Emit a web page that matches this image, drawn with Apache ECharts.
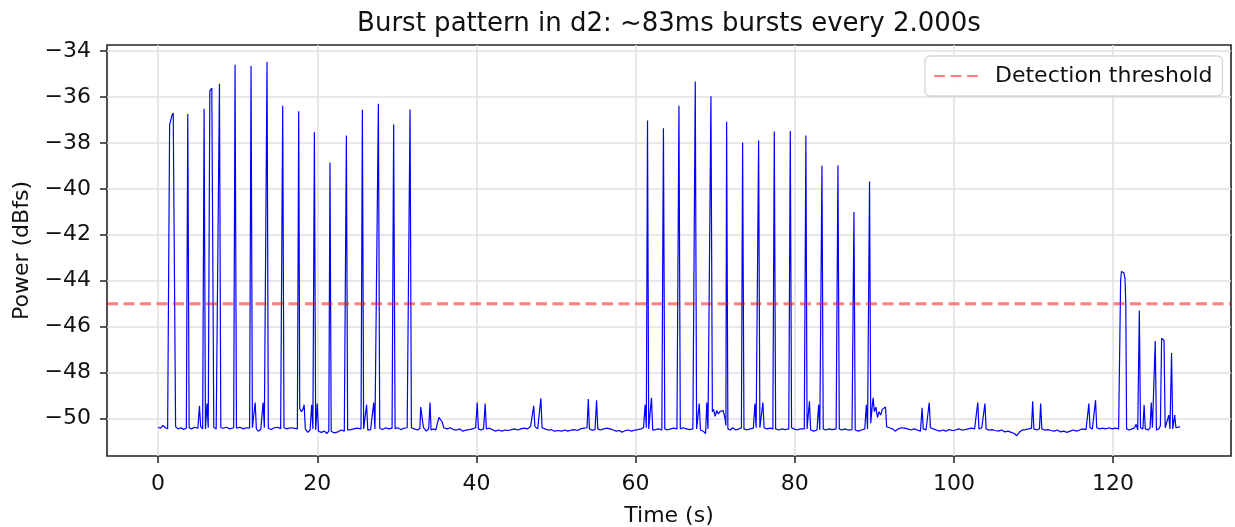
<!DOCTYPE html>
<html>
<head>
<meta charset="utf-8">
<script src="https://cdn.jsdelivr.net/npm/echarts@6/dist/echarts.min.js"></script>
<style>
  html, body { margin: 0; padding: 0; background: #fff; }
  #main { width: 1235px; height: 527px; }
</style>
</head>
<body>
<div id="main"></div>
<script>
// power trace, [time s, dBfs], split into four stretches
const traceA = [
  [0.0,-50.38],[0.3,-50.42],[0.6,-50.30],[0.9,-50.40],[1.2,-50.44],[1.35,-50.40],
  [1.45,-37.2],[1.6,-37.0],[1.75,-36.8],[1.9,-36.7],[2.05,-36.75],[2.2,-50.35],
  [2.5,-50.45],[2.9,-50.40],[3.2,-50.48],[3.55,-50.42],
  [3.73,-36.74],[3.9,-50.40],
  [4.2,-50.45],[4.6,-50.38],[5.0,-50.42],[5.2,-49.45],[5.35,-50.35],[5.6,-50.45],
  [5.78,-36.52],[5.95,-50.45],[6.15,-49.35],[6.3,-50.4],
  [6.5,-35.75],[6.6,-35.68],[6.75,-35.62],[6.85,-35.57],[7.0,-50.38],
  [7.3,-50.45],[7.55,-50.40],
  [7.71,-35.43],[7.88,-50.4],[8.2,-50.42],[8.6,-50.38],[9.0,-50.45],[9.5,-50.40],
  [9.67,-34.6],[9.85,-50.42],[10.3,-50.38],[10.7,-50.45],[11.1,-50.40],[11.5,-50.42],
  [11.68,-34.65],[11.85,-50.4],[12.05,-50.45],[12.2,-49.3],[12.35,-50.45],[12.6,-50.55],
  [12.9,-50.48],[13.1,-50.4],[13.2,-49.3],[13.35,-50.4],[13.55,-50.45],
  [13.69,-34.47],[13.85,-50.42],[14.2,-50.48],[14.6,-50.4],[15.0,-50.38],[15.4,-50.44],[15.5,-50.42],
  [15.66,-36.38],[15.82,-50.4],[16.2,-50.45],[16.6,-50.40],[17.0,-50.42],[17.5,-50.45],
  [17.67,-36.62],[17.8,-49.55],[18.0,-49.7],[18.2,-49.6],[18.35,-49.4],[18.5,-50.45],
  [18.8,-50.6],[19.1,-50.5],[19.3,-49.4],[19.45,-50.45],
  [19.64,-37.54],[19.8,-50.5],[20.0,-49.35],[20.15,-50.55],[20.5,-50.6],[20.9,-50.55],
  [21.2,-50.65],[21.45,-50.55],
  [21.6,-38.85],[21.75,-50.55],[22.1,-50.62],[22.6,-50.58],[23.0,-50.5],[23.4,-50.55],[23.5,-50.5],
  [23.66,-37.68],[23.82,-50.5],[24.2,-50.48],[24.6,-50.45],[25.0,-50.42],[25.5,-50.45],
  [25.67,-36.56],[25.83,-50.45],[26.05,-50.5],[26.2,-49.4],[26.35,-50.5],[26.7,-50.48],
  [26.95,-50.45],[27.1,-49.3],[27.25,-50.45],[27.5,-50.42],
  [27.68,-36.3],[27.85,-50.42],[28.2,-50.48],[28.6,-50.4],[29.0,-50.45],[29.4,-50.42],
  [29.6,-37.2],[29.78,-50.44],[30.1,-50.4],[30.5,-50.48],[30.9,-50.42],[31.3,-50.4],[31.5,-50.45],
  [31.66,-36.55],[31.83,-50.4]
];
const traceB = [
  [32.2,-50.45],[32.6,-50.5],[32.9,-50.42],[33.0,-49.5],[33.2,-49.45],[33.35,-50.4],
  [33.7,-50.55],[34.0,-50.45],[34.17,-49.3],[34.3,-50.5],[34.6,-50.45],[34.9,-50.5],
  [35.1,-50.2],[35.3,-49.95],[35.5,-49.9],[35.7,-50.15],[35.9,-50.4],[36.3,-50.45],
  [36.7,-50.4],[37.1,-50.48],[37.5,-50.5],[37.9,-50.45],[38.3,-50.55],[38.7,-50.5],
  [39.1,-50.48],[39.5,-50.45],[39.9,-50.4],[40.1,-49.3],[40.25,-50.45],[40.6,-50.5],
  [40.9,-50.45],[41.1,-49.35],[41.25,-50.45],[41.6,-50.42],[42.0,-50.48],[42.4,-50.55],
  [42.8,-50.5],[43.2,-50.55],[43.6,-50.5],[44.0,-50.52],[44.4,-50.48],[44.8,-50.45],
  [45.2,-50.5],[45.6,-50.45],[46.0,-50.42],[46.4,-50.45],[46.8,-50.35],[47.05,-50.4],
  [47.2,-49.45],[47.35,-50.35],[47.7,-50.45],[47.95,-50.4],[48.1,-49.12],[48.25,-50.4],
  [48.6,-50.45],[49.0,-50.5],[49.4,-50.48],[49.8,-50.55],[50.0,-50.62],[50.3,-50.52],
  [50.7,-50.55],[51.1,-50.5],[51.5,-50.55],[51.9,-50.5],[52.3,-50.48],[52.7,-50.52],
  [53.1,-50.45],[53.5,-50.42],[53.9,-50.4],[54.06,-49.15],[54.2,-50.45],[54.5,-50.5],
  [54.9,-50.48],[55.1,-49.2],[55.25,-50.45],[55.6,-50.5],[56.0,-50.45],[56.4,-50.42],
  [56.8,-50.45],[57.2,-50.5],[57.6,-50.55],[58.0,-50.52],[58.3,-50.6],[58.7,-50.52],
  [59.1,-50.5],[59.5,-50.55],[59.9,-50.5],[60.3,-50.48],[60.7,-50.45],[61.0,-50.4]
];
const traceC = [
  [61.2,-49.4],[61.35,-50.4],
  [61.5,-37.03],[61.65,-50.45],[62.0,-49.1],[62.15,-50.5],[62.5,-50.48],[62.9,-50.45],[63.3,-50.5],
  [63.5,-37.36],[63.67,-50.45],[64.0,-50.5],[64.4,-50.45],[64.8,-50.42],[65.2,-50.45],
  [65.45,-36.38],[65.62,-50.45],[66.0,-50.4],[66.4,-50.45],[66.8,-50.48],[67.2,-50.45],
  [67.5,-35.33],[67.67,-50.45],[67.85,-50.5],[68.0,-49.35],[68.15,-50.5],[68.5,-50.55],
  [68.8,-50.65],[68.95,-49.3],[69.1,-50.45],[69.3,-50.4],
  [69.47,-35.97],[69.65,-49.7],[69.8,-49.6],[70.0,-49.9],[70.2,-49.65],[70.4,-49.8],
  [70.6,-49.7],[70.8,-49.75],[71.0,-49.65],[71.25,-50.0],[71.35,-50.3],
  [71.44,-37.08],[71.6,-50.45],[71.9,-50.5],[72.2,-50.4],[72.6,-50.5],[73.0,-50.45],[73.3,-50.4],
  [73.45,-37.98],[73.62,-50.45],[74.0,-50.5],[74.4,-50.45],[74.8,-50.42],[75.0,-49.35],[75.15,-50.4],
  [75.46,-37.9],[75.62,-50.4],[75.85,-50.45],[76.0,-49.3],[76.15,-50.4],[76.5,-50.45],
  [76.9,-50.42],[77.25,-50.45],
  [77.43,-37.51],[77.6,-50.45],[78.0,-50.5],[78.4,-50.45],[78.8,-50.48],[79.25,-50.45],
  [79.44,-37.48],[79.6,-50.4],[79.9,-50.45],[80.3,-50.5],[80.7,-50.45],[81.2,-50.45],
  [81.4,-37.68],[81.55,-50.45],[81.85,-49.25],[82.0,-50.5],[82.4,-50.55],[82.8,-50.5],
  [83.0,-49.4],[83.15,-50.5],
  [83.42,-39.0],[83.58,-50.45],[83.9,-50.5],[84.3,-50.45],[84.7,-50.48],[85.2,-50.45],
  [85.43,-38.97],[85.6,-50.45],[85.9,-50.5],[86.3,-50.45],[86.7,-50.5],[87.2,-50.48],
  [87.44,-41.01],[87.6,-50.5],[88.0,-50.55],[88.4,-50.5],[88.8,-50.45],[89.0,-49.4],[89.15,-50.45],
  [89.4,-39.68],[89.55,-50.2],[89.7,-49.6],[89.85,-49.1],[90.0,-49.7],[90.2,-49.5],
  [90.4,-49.95],[90.6,-49.7],[90.8,-49.85],[91.0,-49.6],[91.2,-49.55],[91.4,-49.5],[91.55,-50.35]
];
const traceD = [
  [91.9,-50.4],[92.3,-50.45],[92.6,-50.55],[93.0,-50.45],[93.4,-50.4],[93.8,-50.42],
  [94.2,-50.45],[94.6,-50.5],[95.0,-50.45],[95.4,-50.5],[95.8,-50.55],[96.0,-49.53],
  [96.15,-50.45],[96.5,-50.5],[96.75,-50.45],[96.9,-49.3],[97.05,-50.4],[97.4,-50.45],
  [97.8,-50.5],[98.2,-50.55],[98.6,-50.5],[99.0,-50.55],[99.4,-50.48],[99.8,-50.52],
  [100.2,-50.5],[100.6,-50.45],[101.0,-50.5],[101.4,-50.48],[101.8,-50.45],[102.2,-50.42],
  [102.6,-50.45],[102.85,-50.4],[103.0,-49.3],[103.15,-50.45],[103.5,-50.4],[103.75,-50.45],
  [103.9,-49.35],[104.05,-50.45],[104.4,-50.5],[104.8,-50.48],[105.2,-50.52],[105.6,-50.55],
  [106.0,-50.5],[106.4,-50.58],[106.8,-50.55],[107.2,-50.6],[107.6,-50.65],[107.9,-50.75],
  [108.2,-50.6],[108.6,-50.5],[109.0,-50.48],[109.4,-50.45],[109.75,-50.42],[109.9,-49.25],
  [110.05,-50.45],[110.4,-50.5],[110.75,-50.45],[110.9,-49.35],[111.05,-50.45],[111.4,-50.5],
  [111.8,-50.48],[112.2,-50.52],[112.6,-50.55],[113.0,-50.5],[113.4,-50.58],[113.8,-50.55],
  [114.2,-50.6],[114.6,-50.55],[115.0,-50.5],[115.4,-50.55],[115.8,-50.5],[116.2,-50.45],
  [116.6,-50.48],[116.8,-50.42],[116.96,-49.35],[117.1,-50.4],[117.4,-50.45],[117.65,-50.4],
  [117.8,-49.2],[117.95,-50.4],[118.3,-50.45],[118.7,-50.42],[119.1,-50.45],[119.5,-50.4],
  [119.9,-50.45],[120.3,-50.42],[120.7,-50.45],[120.85,-50.4],
  [120.95,-44.0],[121.05,-43.6],[121.2,-43.52],[121.35,-43.65],[121.5,-43.9],[121.6,-45.0],
  [121.7,-50.45],[122.0,-50.5],[122.4,-50.45],[122.7,-50.4],[122.9,-50.25],[123.1,-50.5],
  [123.3,-45.3],[123.45,-50.4],[123.75,-50.45],[123.9,-49.4],[124.05,-50.45],[124.4,-50.5],
  [124.65,-50.4],[124.8,-49.3],[124.95,-50.4],[125.1,-50.45],
  [125.3,-46.62],[125.45,-50.5],[125.75,-50.45],[125.95,-50.3],[126.1,-46.5],[126.25,-46.55],
  [126.4,-46.6],[126.55,-50.4],[126.8,-50.45],[127.0,-49.85],[127.15,-50.45],
  [127.35,-47.15],[127.5,-50.45],[127.75,-49.85],[127.9,-50.4],[128.1,-50.35],[128.4,-50.35]
];

const thresholdDb = -45;
const xRange = [-6.42, 134.82];
const yRange = [-51.63, -33.74];
const xTicks = [0, 20, 40, 60, 80, 100, 120];
const yTicks = [-50, -48, -46, -44, -42, -40, -38, -36, -34];

const font = "DejaVu Sans";
const ink = "#222";

function minusSign(v) {
  return v < 0 ? "\u2212" + Math.abs(v) : String(v);
}

function chartOption() {
  const trace = traceA.concat(traceB, traceC, traceD);
  return {
    animation: false,
    backgroundColor: "#fff",
    title: {
      text: "Burst pattern in d2: ~83ms bursts every 2.000s",
      left: 664,
      top: 6,
      textAlign: "center",
      textStyle: { fontFamily: font, fontSize: 26, fontWeight: "normal", color: "#111" },
    },
    legend: {
      data: ["Detection threshold"],
      left: 925,
      top: 56,
      padding: [9, 10, 9, 8],
      itemWidth: 46,
      itemHeight: 14,
      backgroundColor: "rgba(255,255,255,0.85)",
      borderColor: "#d5d5d5",
      borderWidth: 1.3,
      borderRadius: 5,
      itemStyle: { opacity: 0 },
      textStyle: { fontFamily: font, fontSize: 22, color: "#111", padding: [0, 0, 0, 10] },
    },
    grid: {
      left: 107,
      right: 4,
      top: 45,
      bottom: 71,
      outerBoundsMode: "none",
      show: true,
      borderColor: ink,
      borderWidth: 1.6,
    },
    xAxis: {
      type: "value",
      min: xRange[0],
      max: xRange[1],
      minInterval: 20,
      maxInterval: 20,
      name: "Time (s)",
      nameLocation: "middle",
      nameGap: 49,
      nameTextStyle: { fontFamily: font, fontSize: 22, color: "#111" },
      axisLine: { show: false, onZero: false },
      axisTick: { show: true, length: 7, customValues: xTicks, lineStyle: { color: ink, width: 1.5 } },
      axisLabel: {
        customValues: xTicks,
        margin: 17,
        fontFamily: font,
        fontSize: 22,
        color: "#111",
      },
      splitLine: { show: true, lineStyle: { color: "#e0e0e0", width: 1.5 } },
    },
    yAxis: {
      type: "value",
      min: yRange[0],
      max: yRange[1],
      minInterval: 2,
      maxInterval: 2,
      name: "Power (dBfs)",
      nameLocation: "middle",
      nameRotate: 90,
      nameGap: 74,
      nameTextStyle: { fontFamily: font, fontSize: 22, color: "#111" },
      axisLine: { show: false, onZero: false },
      axisTick: { show: true, length: 7, customValues: yTicks, lineStyle: { color: ink, width: 1.5 } },
      axisLabel: {
        customValues: yTicks,
        margin: 16,
        fontFamily: font,
        fontSize: 22,
        color: "#111",
        formatter: minusSign,
      },
      splitLine: { show: true, lineStyle: { color: "#e0e0e0", width: 1.5 } },
    },
    series: [
      {
        name: "Power",
        type: "line",
        data: trace,
        symbol: "none",
        sampling: null,
        lineStyle: { color: "#0000ff", width: 1.2 },
        itemStyle: { color: "#0000ff" },
      },
      {
        name: "Detection threshold",
        type: "line",
        data: [[xRange[0], thresholdDb], [xRange[1], thresholdDb]],
        symbol: "none",
        lineStyle: { color: "rgba(255,0,0,0.5)", width: 3, type: [11, 5.5] },
        itemStyle: { color: "rgba(255,0,0,0.5)" },
      },
    ],
  };
}

function initChart(element) {
  if (!element) return;
  const chart = echarts.init(element, null, { renderer: "canvas" });
  chart.setOption(chartOption());
  return chart;
}

initChart(document.getElementById("main"));
</script>
</body>
</html>
